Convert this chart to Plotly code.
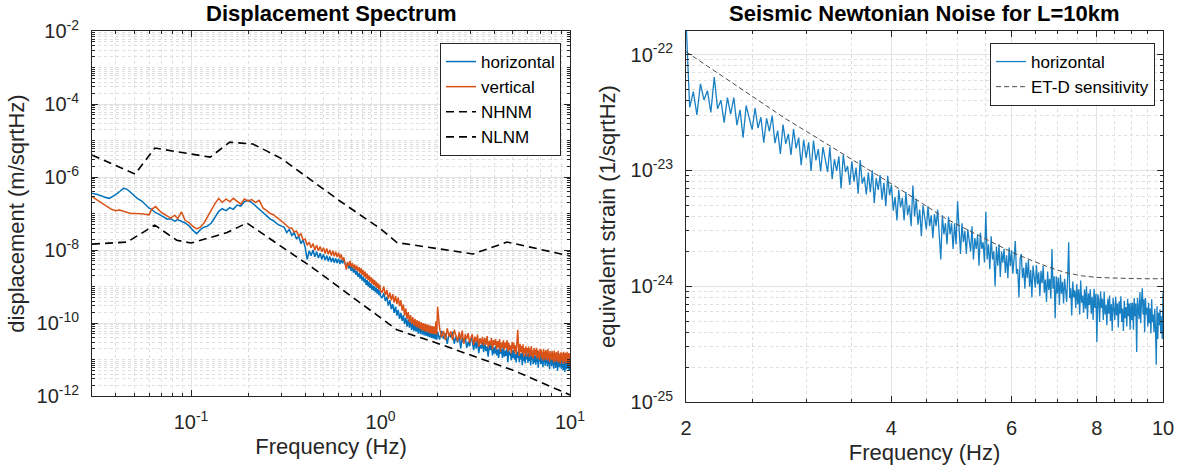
import numpy as np
import plotly.graph_objects as go

FONT = "Liberation Sans, Arial, Helvetica, sans-serif"
BLUE = "#0072BD"
ORANGE = "#D95319"
AXIS = "#262626"

# ---------------- left panel: displacement spectrum ----------------
# log-spaced low-frequency bins (Hz)
freq_low = [0.030, 0.031, 0.032, 0.034, 0.035, 0.037, 0.038, 0.040, 0.042, 0.044,
            0.046, 0.048, 0.050, 0.052, 0.055, 0.057, 0.060, 0.062, 0.065, 0.068,
            0.071, 0.075, 0.078, 0.082, 0.085, 0.089, 0.093, 0.098, 0.102, 0.107,
            0.112, 0.117, 0.122, 0.128, 0.134, 0.140, 0.146, 0.153, 0.160, 0.167,
            0.175, 0.183, 0.191, 0.200, 0.209, 0.219, 0.229, 0.240, 0.251, 0.262,
            0.274, 0.287, 0.300]
# linear FFT bins above 0.3 Hz: 0.31-1.00 (0.01), 1.02-2.00 (0.02), 2.05-10.00 (0.05)
freq_mid = np.round(np.arange(0.31, 1.001, 0.01), 3)
freq_hi1 = np.round(np.arange(1.02, 2.001, 0.02), 3)
freq_hi2 = np.round(np.arange(2.05, 10.001, 0.05), 3)

# horizontal component
horiz_low_nm = [360, 350, 330, 300, 280, 260, 280, 330, 400, 490,
                460, 370, 300, 260, 220, 180, 140, 130, 105, 95,
                85, 70, 72, 62, 68, 60, 55, 45, 35, 28,
                36, 42, 45, 55, 80, 115, 135, 120, 145, 130,
                170, 160, 210, 230, 200, 160, 125, 100, 85, 70,
                62, 50, 45]
horiz_mid_nm = [42, 30, 37, 25, 30, 20, 24, 15, 19, 12,
                5.5, 9.5, 7, 10, 6.5, 9, 6, 8.2, 5.6, 7.6,
                5.2, 7, 4.9, 6.6, 4.7, 6.1, 4.5, 5.9, 4.4, 5.8,
                4.2, 5.5, 4.3, 5.3, 4, 3.4, 4.4, 3.1, 3.9, 2.7,
                3.4, 2.4, 3.1, 2.1, 2.7, 1.85, 2.35, 1.65, 2.15, 1.45,
                1.85, 1.3, 1.65, 1.1, 1.5, 1.0, 1.35, 0.92, 1.22, 0.82,
                1.08, 0.77, 1.0, 0.7, 0.93, 0.64, 0.85, 0.58, 0.78, 0.55]
horiz_hi1_nm = [0.48, 0.66, 0.40, 0.52, 0.30, 0.42, 0.24, 0.33, 0.19, 0.28,
                0.16, 0.23, 0.13, 0.19, 0.115, 0.165, 0.095, 0.14, 0.08, 0.125,
                0.075, 0.11, 0.065, 0.105, 0.06, 0.098, 0.058, 0.09, 0.052, 0.088,
                0.05, 0.082, 0.048, 0.078, 0.046, 0.075, 0.044, 0.072, 0.042, 0.07,
                0.041, 0.068, 0.039, 0.064, 0.038, 0.062, 0.036, 0.06, 0.035, 0.058]
horiz_hi2_pm = [35, 61, 37, 52, 27, 53, 40, 57, 27, 43,
                29, 49, 20, 40, 28, 40.5, 21, 31, 23, 40,
                32, 18, 33, 20, 35, 15, 25, 20, 30, 16,
                29, 17, 23, 12, 25, 18, 27.5, 13, 22, 14.5,
                23.5, 13, 19, 11, 22.5, 14.5, 19.5, 11, 22.5, 12,
                17.5, 12.5, 20, 8.5, 18, 13, 15.5, 9.5, 18, 11,
                18.5, 10, 14, 8.3, 16, 11, 18.5, 8.5, 14.5, 10,
                15, 7, 15.5, 9.2, 13, 8.1, 16, 10, 14.3, 8.2,
                15.2, 9.2, 13, 7, 13.9, 10.1, 11.6, 7.4, 15.2, 8.3,
                12.4, 7.2, 13.8, 8.6, 11.6, 6, 12.9, 8.9, 14.7, 7.4,
                12.6, 7.7, 10.6, 6.2, 13.3, 8.5, 11.8, 6.8, 11.2, 7.9,
                13.3, 6.4, 10.5, 7.3, 12.2, 5.4, 10.6, 8.4, 11.4, 6.5,
                10.8, 7.3, 12, 5.6, 9.4, 7.6, 11.4, 5.9, 10, 6.6,
                10.7, 4.9, 9.4, 6.9, 11.8, 6.1, 9.7, 7.3, 10.8, 5.6,
                9.5, 6.3, 11, 5.1, 10.1, 7, 8.5, 4.6, 11.2, 6.5,
                9.6, 5.4, 10.3, 6.1, 13.7, 5.7, 9.1, 4.9, 12, 7.6]

# vertical component
vert_low_nm = [290, 260, 230, 190, 170, 140, 130, 120, 125, 115,
               105, 100, 100, 100, 98, 95, 92, 130, 155, 120,
               100, 85, 75, 90, 72, 110, 65, 55, 45, 38,
               42, 55, 80, 130, 190, 260, 200, 250, 210, 260,
               220, 180, 250, 220, 240, 200, 230, 140, 120, 100,
               90, 75, 62]
vert_mid_nm = [54, 46, 40, 40, 31, 33, 24, 28, 19, 20,
               13.5, 16.5, 11.5, 15, 10, 13.5, 9.5, 12.5, 9, 11.5,
               8, 11, 7.6, 10, 7.1, 9.5, 6.7, 9, 6.4, 8.4,
               5.9, 7.6, 5.2, 6.3, 3.9, 2.9, 4.7, 3.6, 5, 3.4,
               4.4, 3.1, 4, 2.8, 3.7, 2.6, 3.4, 2.3, 3.2, 2.1,
               2.8, 1.85, 2.55, 1.65, 2.25, 1.5, 2.0, 1.35, 1.8, 1.2,
               1.65, 1.1, 1.5, 1.0, 1.35, 0.92, 1.22, 0.83, 1.12, 0.78]
vert_hi1_nm = [0.68, 1.0, 0.58, 0.8, 0.46, 0.68, 0.42, 0.62, 0.36, 0.55,
               0.33, 0.5, 0.29, 0.42, 0.22, 0.32, 0.16, 0.25, 0.13, 0.2,
               0.105, 0.165, 0.095, 0.145, 0.085, 0.13, 0.078, 0.12, 0.072, 0.112,
               0.068, 0.105, 0.062, 0.1, 0.06, 0.096, 0.057, 0.092, 0.055, 0.088,
               0.053, 0.085, 0.051, 0.082, 0.05, 0.08, 0.049, 0.11, 0.048, 0.28]
vert_hi2_pm = [71.5, 40.5, 61, 34, 71.5, 42.5, 59, 34, 65, 42,
               32, 56, 35, 62, 27, 49, 36, 53, 28.5, 41,
               49, 25, 42.5, 30, 48, 22, 38.5, 26.5, 42, 24,
               39, 25, 44, 21, 32.5, 24.5, 39, 18.5, 34, 25,
               36, 19, 32, 21, 36.5, 16.5, 29, 21, 33.5, 18.5,
               29, 20.5, 34, 16.5, 29, 18, 24.5, 14.5, 30.5, 19.5,
               28.5, 15.5, 24.5, 14, 26, 65, 21.5, 12.5, 27, 16,
               23.5, 15, 26, 12, 20.5, 15, 23, 12, 20.5, 15.5,
               22.5, 11.5, 20, 13, 23.5, 12, 17.5, 10.5, 20.5, 13,
               18.5, 13, 21, 10.5, 18.5, 11.8, 16.8, 9.5, 19.6, 13,
               18.7, 10.7, 16.3, 9.2, 19.4, 11.7, 16.4, 9.5, 18.3, 10.8,
               16.8, 9.4, 19.3, 10.6, 14.5, 8.5, 17, 11, 15.5, 9.6,
               17.1, 10.1, 15.1, 8.2, 17.5, 11.2, 14.3, 8.6, 16, 10.4,
               14.5, 9, 17.3, 8.3, 14.8, 10, 12.9, 7.6, 15.8, 9.4,
               15.2, 9.3, 13.4, 7.5, 16.2, 8.6, 13.8, 10.3, 15.3, 7.9,
               14.1, 9.6, 16.3, 7.9, 13.4, 8.9, 15, 7.2, 14.3, 9.9]

# Peterson noise models (displacement, nm/sqrtHz)
nhnm_freq = [0.03, 0.0506, 0.0644, 0.126, 0.16, 0.212, 0.25, 0.3, 0.61, 1.0, 1.22, 3.08, 4.65, 10]
nhnm_nm = [4000, 1200, 6200, 3500, 9000, 8000, 5200, 3200, 220, 38, 16, 7.8, 16.5, 6.9]
nlnm_freq = [0.03, 0.046, 0.0644, 0.084, 0.1, 0.155, 0.197, 0.44, 1.22, 1.99, 5.0, 10]
nlnm_nm = [14.5, 16.5, 48, 18.5, 15.5, 30, 55, 3.2, 0.065, 0.028, 0.0051, 0.00107]

# ---------------- right panel: Newtonian noise strain ----------------
strain_f0, strain_df = 2.0, 0.025   # bins 2.000 ... 10.000 Hz
strain_1e25 = [2000, 350, 479, 302, 559, 406, 489, 317, 640, 340,
               404, 259, 426, 306, 425, 246, 333, 192, 363, 282,
               225, 346, 232, 288, 174, 282, 217, 298, 172, 221,
               139, 249, 170, 206, 136, 228, 155, 192, 111, 184,
               128, 175, 99, 181, 122, 153, 98, 159, 124, 97,
               159, 84, 125, 99, 132, 70, 137, 97, 109, 75,
               120, 80, 106, 63, 123, 77, 88, 62, 96, 65,
               100, 52, 86, 68, 91, 56, 78, 49, 90, 61,
               75, 45, 59, 37, 68, 48, 58, 37, 65, 41,
               50, 33, 74, 40, 57, 34, 46, 27, 50, 39,
               31, 49, 33, 41, 26, 42, 33, 46, 27, 17,
               41, 28, 35, 23, 40, 28, 35, 21, 35, 23,
               54, 34, 19, 35, 24, 30, 19, 31, 25, 20,
               33, 17, 26, 21, 28, 15, 29, 21, 24, 16,
               44, 17, 23, 14, 27, 17, 20, 10, 22, 15,
               23, 12, 20, 16, 21, 13, 18.5, 11.7, 21.6, 14.9,
               20.4, 12.8, 17.3, 24.6, 12.8, 14.1, 8, 17.2, 19, 11.8,
               14.4, 9.5, 16, 11.8, 16.8, 9.9, 13.8, 8, 15.1, 11.9,
               9.7, 15.2, 10.4, 13.2, 8.2, 13.6, 10.6, 15, 8.8, 11.4,
               7.3, 13.4, 9.3, 11.6, 7.8, 21, 9.5, 12.2, 5.3, 12.2,
               8.6, 11.9, 6.9, 12.6, 8.6, 10.9, 7.1, 11.6, 9.2, 7.3,
               12.2, 24, 7.9, 9.6, 5.6, 11, 8, 9.2, 6.5, 10.4,
               7, 9.4, 5.7, 11.2, 7.2, 8.3, 5.9, 9.4, 6.4, 10,
               5.2, 8.7, 6.9, 9.4, 5.8, 8.1, 5.1, 9.5, 6.5, 8.6,
               3.3, 8.5, 7.7, 4.9, 9, 6.5, 7.8, 5.1, 9, 5.7,
               6.9, 4.6, 7.8, 5.8, 8.3, 5, 7, 4.1, 7.9, 6.3,
               5.1, 8.1, 5.6, 7.1, 4.4, 7.4, 5.8, 8.2, 4.9, 6.4,
               4.1, 7.5, 5.3, 6.6, 4.5, 7.8, 5.5, 7.1, 4.2, 7.2,
               5.1, 7.2, 4.2, 7.9, 5.5, 7.1, 2.7, 7.9, 6.4, 5.2,
               8.9, 4.8, 7.4, 9.6, 5.7, 7.7, 4, 7.9, 5.7, 6.5,
               4.5, 7.2, 4.8, 6.4, 3.9, 7.7, 4.9, 5.7, 4, 6.4,
               4.3, 2.1, 6.7, 3.5, 5.9, 4.6, 6.3, 3.9, 5.5, 3.5,
               8.8]

etd_freq = [2.0, 2.2, 2.4, 2.6, 2.8, 3.0, 3.3, 3.6, 3.9, 4.2, 4.5, 4.8, 5.1,
            5.4, 5.7, 6.0, 6.4, 6.8, 7.2, 7.6, 8.0, 8.5, 9.0, 9.5, 10.0]
etd_1e25 = [1060, 726, 514, 375, 279, 218, 155, 113, 84, 64, 49, 38.5, 32,
            27, 23, 19.7, 16.8, 14.6, 13.1, 12.3, 11.9, 11.7, 11.65, 11.6, 11.6]

# ---------------- assemble ----------------
freq_left = np.concatenate([freq_low, freq_mid, freq_hi1, freq_hi2])
horiz_disp = np.concatenate([np.array(horiz_low_nm + horiz_mid_nm + horiz_hi1_nm) * 1e-9,
                             np.array(horiz_hi2_pm) * 1e-12])
vert_disp = np.concatenate([np.array(vert_low_nm + vert_mid_nm + vert_hi1_nm) * 1e-9,
                            np.array(vert_hi2_pm) * 1e-12])

W, H = 1179, 469
L_BOX = (92, 570, 31, 396)    # x0, x1, y0, y1 in px
R_BOX = (686, 1163, 31, 402)


def dom_x(b):
    return [b[0] / W, b[1] / W]


def dom_y(b):
    return [1 - b[3] / H, 1 - b[2] / H]


fig = go.Figure()
dash_blk = dict(color="black", width=1.6, dash="8px,5px")

fig.add_trace(go.Scatter(x=freq_left, y=horiz_disp, mode="lines", name="horizontal",
                         line=dict(color=BLUE, width=1.5), xaxis="x", yaxis="y"))
fig.add_trace(go.Scatter(x=freq_left, y=vert_disp, mode="lines", name="vertical",
                         line=dict(color=ORANGE, width=1.5), xaxis="x", yaxis="y"))
fig.add_trace(go.Scatter(x=nhnm_freq, y=np.array(nhnm_nm) * 1e-9, mode="lines", name="NHNM",
                         line=dash_blk, xaxis="x", yaxis="y"))
fig.add_trace(go.Scatter(x=nlnm_freq, y=np.array(nlnm_nm) * 1e-9, mode="lines", name="NLNM",
                         line=dash_blk, xaxis="x", yaxis="y"))

fig.add_trace(go.Scatter(x0=strain_f0, dx=strain_df, y=np.array(strain_1e25) * 1e-25,
                         mode="lines", name="horizontal", legend="legend2",
                         line=dict(color="rgba(0,114,189,0.9)", width=1.3),
                         xaxis="x2", yaxis="y2"))
fig.add_trace(go.Scatter(x=etd_freq, y=np.array(etd_1e25) * 1e-25, mode="lines",
                         name="ET-D sensitivity", legend="legend2",
                         line=dict(color="#4d4d4d", width=1, dash="5px,3px"),
                         xaxis="x2", yaxis="y2"))


def sup(mant, e):
    return f"{mant}<sup>{e}</sup>"


common = dict(type="log", showline=True, linecolor=AXIS, linewidth=1, mirror="allticks",
              ticks="inside", ticklen=6, tickcolor=AXIS, showgrid=True, gridcolor="#e3e3e3",
              gridwidth=1, zeroline=False, automargin=False, ticklabeloverflow="allow",
              tickfont=dict(size=20, color=AXIS), title_font=dict(size=22, color=AXIS))
minor_style = dict(ticks="inside", ticklen=3, tickcolor=AXIS, showgrid=True,
                   gridcolor="#dedede", griddash="dot", gridwidth=1)

lx_minor = [k * 10.0 ** d for d in (-2, -1, 0) for k in range(2, 10) if k * 10.0 ** d > 0.03]
ly_minor = [k * 10.0 ** d for d in range(-12, -2) for k in range(1, 10)
            if not (k == 1 and d % 2 == 0)]
ry_minor = [k * 10.0 ** d for d in range(-25, -21) for k in range(2, 10)]

fig.update_layout(
    width=W, height=H, margin=dict(l=0, r=0, t=0, b=0, autoexpand=False),
    paper_bgcolor="white", plot_bgcolor="white",
    font=dict(family=FONT, size=17, color=AXIS),
    xaxis=dict(common, domain=dom_x(L_BOX), anchor="y", range=[np.log10(0.03), 1],
               tickvals=[0.1, 1, 10], ticktext=[sup(10, -1), sup(10, 0), sup(10, 1)],
               ticklabelstandoff=8,
               minor=dict(minor_style, tickvals=lx_minor),
               title=dict(text="Frequency (Hz)", standoff=6)),
    yaxis=dict(common, domain=dom_y(L_BOX), anchor="x", range=[-12, -2],
               tickvals=[10.0 ** e for e in range(-12, -1, 2)],
               ticktext=[sup(10, e) for e in range(-12, -1, 2)],
               ticklabelstandoff=8,
               minor=dict(minor_style, tickvals=ly_minor),
               title=dict(text="displacement (m/sqrtHz)", standoff=5)),
    xaxis2=dict(common, domain=dom_x(R_BOX), anchor="y2", range=[np.log10(2), 1],
                tickvals=[2, 4, 6, 8, 10], ticktext=["2", "4", "6", "8", "10"],
                ticklabelstandoff=8,
                minor=dict(minor_style, tickvals=[2.5, 3, 3.5, 4.5, 5, 5.5, 6.5, 7, 7.5,
                                                  8.5, 9, 9.5]),
                title=dict(text="Frequency (Hz)", standoff=6)),
    yaxis2=dict(common, domain=dom_y(R_BOX), anchor="x2", range=[-25, np.log10(1.6e-22)],
                tickvals=[1e-25, 1e-24, 1e-23, 1e-22],
                ticktext=[sup(10, e) for e in (-25, -24, -23, -22)],
                ticklabelstandoff=8,
                minor=dict(minor_style, tickvals=ry_minor),
                title=dict(text="equivalent strain (1/sqrtHz)", standoff=8)),
    legend=dict(x=561 / W, y=1 - 43 / H, xanchor="right", yanchor="top",
                bgcolor="white", bordercolor=AXIS, borderwidth=1,
                font=dict(size=17, color="black")),
    legend2=dict(x=1155 / W, y=1 - 43 / H, xanchor="right", yanchor="top",
                 bgcolor="white", bordercolor=AXIS, borderwidth=1,
                 font=dict(size=17, color="black")),
    annotations=[
        dict(text="<b>Displacement Spectrum</b>", x=(L_BOX[0] + L_BOX[1]) / 2 / W,
             y=1 - 14 / H, xref="paper", yref="paper", xanchor="center", yanchor="middle",
             showarrow=False, font=dict(size=22, color="black")),
        dict(text="<b>Seismic Newtonian Noise for L=10km</b>",
             x=(R_BOX[0] + R_BOX[1]) / 2 / W, y=1 - 14 / H, xref="paper", yref="paper",
             xanchor="center", yanchor="middle",
             showarrow=False, font=dict(size=22, color="black")),
    ],
)

# the page's default 8px body margin would shift the whole figure
fig.write_html("out.html", config={"displayModeBar": False},
               post_script="document.body.style.margin = '0';")
